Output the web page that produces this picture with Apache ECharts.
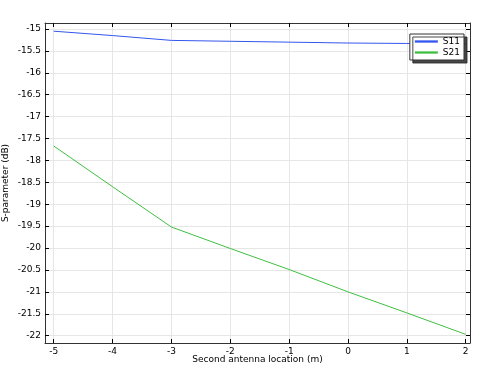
<!DOCTYPE html>
<html><head><meta charset="utf-8">
<script src="https://cdn.jsdelivr.net/npm/echarts@6/dist/echarts.min.js"></script>
<style>html,body{margin:0;padding:0;background:#fff}#c{width:479px;height:366px}</style>
</head><body><div id="c"></div>
<script>
const xValues = [-5, -4, -3, -2, -1, 0, 1, 2];
const s11 = [-15.05, -15.15, -15.26, -15.28, -15.30, -15.32, -15.33, -15.34];
const s21 = [-17.67, -18.6, -19.52, -20.01, -20.49, -21.0, -21.48, -21.97];
const seriesNames = ['S11', 'S21'];
const xTicks = [-5, -4, -3, -2, -1, 0, 1, 2];
const yTicks = [-22, -21.5, -21, -20.5, -20, -19.5, -19, -18.5, -18, -17.5, -17, -16.5, -16, -15.5, -15];
const xTitle = 'Second antenna location (m)';
const yTitle = 'S-parameter (dB)';

const font = 'DejaVu Sans';
const chart = echarts.init(document.getElementById('c'), null, {renderer: 'canvas'});
const pair = a => xValues.map((x, i) => [x, a[i]]);
const axisLine = {show: true, onZero: false, lineStyle: {color: '#333', width: 1}};
const xTick = {show: true, inside: true, length: 4, customValues: xTicks, lineStyle: {color: '#000'}};
const yTick = {show: true, inside: true, length: 4, customValues: yTicks, lineStyle: {color: '#000'}};
const grid = {show: true, lineStyle: {color: '#e6e6e6'}};
const X0 = -5.148, X1 = 2.073, Y0 = -22.167, Y1 = -14.863;
chart.setOption({
  animation: false,
  grid: {left: 45, top: 23, right: 9, bottom: 23, containLabel: false, outerBoundsMode: 'none'},
  xAxis: [
    {type: 'value', min: X0, max: X1, position: 'bottom',
     axisLine, axisTick: xTick, splitLine: grid,
     axisLabel: {customValues: xTicks, fontFamily: font, fontSize: 9, color: '#000', margin: 4},
     name: xTitle, nameLocation: 'middle', nameGap: 12, nameMoveOverlap: false,
     nameTextStyle: {fontFamily: font, fontSize: 9, color: '#000', verticalAlign: 'top'}},
    {type: 'value', min: X0, max: X1, position: 'top',
     axisLine, axisTick: xTick, splitLine: {show: false}, axisLabel: {show: false}}
  ],
  yAxis: [
    {type: 'value', min: Y0, max: Y1, position: 'left',
     axisLine, axisTick: yTick, splitLine: grid,
     axisLabel: {customValues: yTicks, fontFamily: font, fontSize: 9, color: '#000', margin: 4},
     name: yTitle, nameLocation: 'middle', nameGap: 39, nameRotate: 90, nameMoveOverlap: false,
     nameTextStyle: {fontFamily: font, fontSize: 9, color: '#000', verticalAlign: 'middle', align: 'center'}},
    {type: 'value', min: Y0, max: Y1, position: 'right',
     axisLine, axisTick: yTick, splitLine: {show: false}, axisLabel: {show: false}}
  ],
  legend: {
    right: 15, top: 34, orient: 'vertical', itemWidth: 23, itemHeight: 8, itemGap: 2,
    padding: [3, 4, 3, 5], backgroundColor: '#fff', borderColor: '#333', borderWidth: 1,
    shadowColor: 'rgba(40,40,40,0.85)', shadowOffsetX: 3, shadowOffsetY: 3, shadowBlur: 0,
    textStyle: {fontFamily: font, fontSize: 9, color: '#000'},
    data: seriesNames.map(n => ({name: n, icon: 'path://M0,0L10,0L10,1L0,1Z'}))
  },
  series: [
    {name: seriesNames[0], type: 'line', data: pair(s11), showSymbol: false, symbol: 'none',
     lineStyle: {color: '#3355ee', width: 1}, itemStyle: {color: '#3355ee'}},
    {name: seriesNames[1], type: 'line', data: pair(s21), showSymbol: false, symbol: 'none',
     lineStyle: {color: '#3fbf3f', width: 1}, itemStyle: {color: '#3fbf3f'}}
  ]
});
</script></body></html>
